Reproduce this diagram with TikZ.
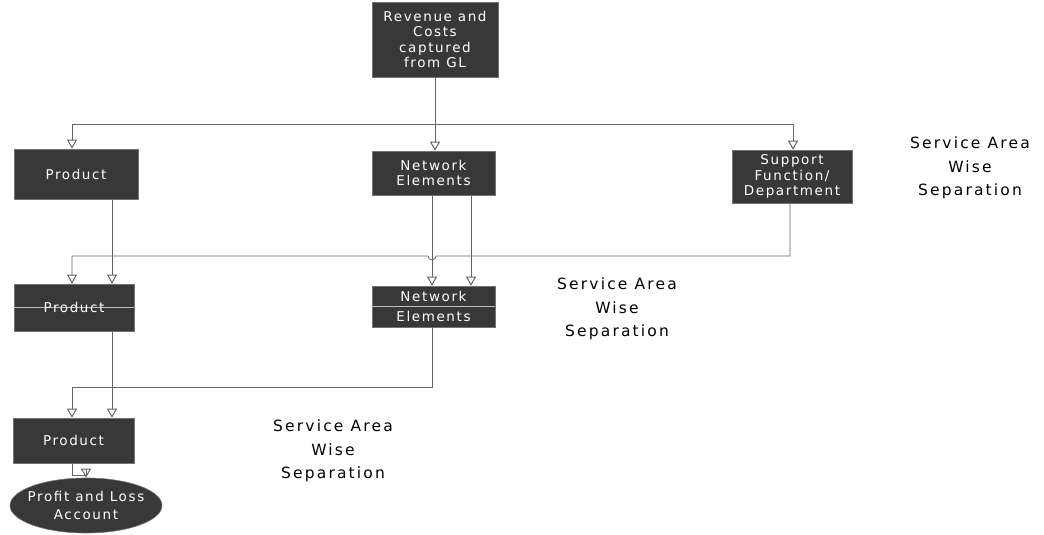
\documentclass[tikz,border=0pt]{standalone}
\usepackage{fontspec}
\setmainfont{DejaVu Sans}
\newfontfamily\boxfont{DejaVu Sans}[LetterSpace=12]
\newfontfamily\lblfont{DejaVu Sans}[LetterSpace=14]
\usetikzlibrary{arrows.meta,shapes.geometric,calc}
\begin{document}
\begin{tikzpicture}[x=1pt,y=-1pt,
  box/.style={rectangle,fill=black!78,draw=black!55,line width=0.6pt,text=white,
    align=center,font=\boxfont\fontsize{13.5}{15.5}\selectfont,inner sep=0pt},
  oval/.style={ellipse,fill=black!78,draw=black!55,line width=0.6pt,inner sep=0pt},
  btxt/.style={text=white,align=center,inner sep=0pt},
  lbl/.style={align=center,font=\lblfont\fontsize{15.5}{23.5}\selectfont,text=black},
  conn/.style={draw=black!60,line width=0.8pt},
  arr/.style={conn,-{Triangle[open,width=10pt,length=9pt,line width=1pt]}},
  sep/.style={draw=white!75!black,line width=0.6pt}]
\useasboundingbox (0,0) rectangle (1044,535);

\node[box,minimum width=126pt,minimum height=75pt] (top) at (435,39.5) {Revenue and\\Costs\\captured\\from GL};

\node[box,minimum width=124pt,minimum height=50pt] (P1) at (76,174) {Product};
\node[box,minimum width=123pt,minimum height=44pt] (N1) at (433.5,173) {Network\\Elements};
\node[box,minimum width=120pt,minimum height=53pt] (S1) at (792,176.5) {Support\\Function/\\Department};

\node[box,minimum width=120pt,minimum height=47pt] (P2) at (74,307.5) {};
\draw[sep] (P2.west) -- (P2.east);
\node[btxt,font=\boxfont\fontsize{13.5}{15.5}\selectfont] (P2t) at (P2) {Product};
\node[box,minimum width=123pt,minimum height=41pt] (N2) at (433.5,306.5) {};
\draw[sep] (N2.west) -- (N2.east);
\node[btxt,font=\boxfont\fontsize{13.5}{20}\selectfont] (N2t) at (N2) {Network\\Elements};

\node[box,minimum width=121pt,minimum height=45pt] (P3) at (73.5,440.5) {Product};
\node[oval,minimum width=152pt,minimum height=55pt] (PL) at (86,505.5) {};
\node[btxt,font=\boxfont\fontsize{13.5}{18}\selectfont] (PLt) at (PL) {Profit and Loss\\Account};

\node[lbl] (L1) at (970,168) {Service Area\\Wise\\Separation};
\node[lbl] (L2) at (617,309) {Service Area\\Wise\\Separation};
\node[lbl] (L3) at (333,451) {Service Area\\Wise\\Separation};

% level 1
\draw[arr] (top.south) -- (top.south |- N1.north);
\draw[arr] (top.south |- 0,124) -| ([xshift=-4pt]P1.north);
\draw[arr] (top.south |- 0,124) -| ([xshift=1pt]S1.north);

% level 2
\draw[arr] ([xshift=36pt]P1.south) -- ([xshift=36pt]P1.south |- P2.north);
\draw[arr] ([xshift=-1.5pt]N1.south) -- ([xshift=-1.5pt]N1.south |- N2.north);
\draw[arr] ([xshift=37.5pt]N1.south) -- ([xshift=37.5pt]N1.south |- N2.north);
\draw[arr] ([xshift=-2pt]S1.south) -- ([xshift=-2pt]S1.south |- 0,256)
  -- (436,256) arc[start angle=0,end angle=-180,radius=4pt]
  -- ([xshift=-2pt]P2.north |- 0,256) -- ([xshift=-2pt]P2.north);

% level 3
\draw[arr] ([xshift=38pt]P2.south) -- ([xshift=38pt]P2.south |- P3.north);
\draw[arr] ([xshift=-1.5pt]N2.south) -- ([xshift=-1.5pt]N2.south |- 0,387)
  -| ([xshift=-1.5pt]P3.north);

% to P&L
\draw[arr] ([xshift=-1.5pt]P3.south) -- ++(0,12) -| (PL.north);
\end{tikzpicture}
\end{document}
